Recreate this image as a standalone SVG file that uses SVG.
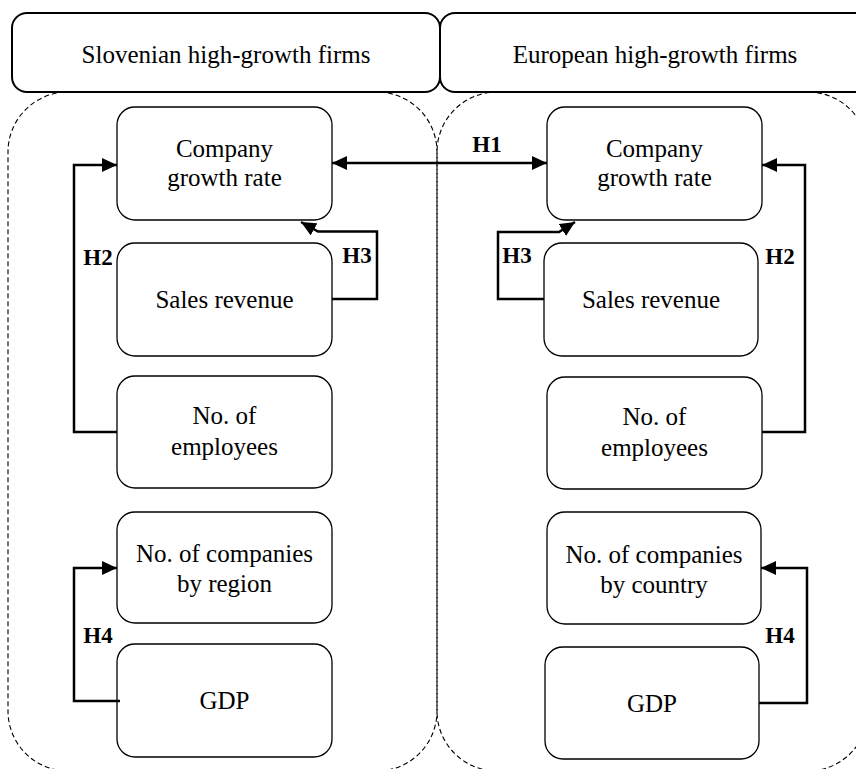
<svg xmlns="http://www.w3.org/2000/svg" width="856" height="769" viewBox="0 0 856 769">
<style>
text { font-family: "Liberation Serif", "Times New Roman", serif; fill: #000; }
.lbl { font-size: 25px; text-anchor: middle; }
.h { font-size: 23px; font-weight: bold; text-anchor: middle; }
.region { fill: none; stroke: #000; stroke-width: 1.1; stroke-dasharray: 5 3; }
.header { fill: #fff; stroke: #000; stroke-width: 2; }
.node { fill: #fff; stroke: #000; stroke-width: 1.3; }
.conn { fill: none; stroke: #000; stroke-width: 2.5; }
</style>
<defs>
<marker id="arr" viewBox="0 0 15 14" refX="15" refY="7" markerWidth="15" markerHeight="14" markerUnits="userSpaceOnUse" orient="auto-start-reverse">
<path d="M0,0 L15,7 L0,14 z" fill="#000"/>
</marker>
</defs>
<rect width="856" height="769" fill="#fff"/>
<g id="regions">
<rect class="region" x="8" y="92" width="429" height="679" rx="60" ry="60"/>
<rect class="region" x="437" y="92" width="431" height="679" rx="60" ry="60"/>
</g>
<g id="header-slovenian">
<rect class="header" x="12" y="13" width="428" height="79" rx="15" ry="15"/>
<text class="lbl" x="226" y="63">Slovenian high-growth firms</text>
</g>
<g id="header-european">
<rect class="header" x="440" y="13" width="430" height="79" rx="15" ry="15"/>
<text class="lbl" x="655" y="63">European high-growth firms</text>
</g>
<g id="sl-growth">
<rect class="node" x="117" y="107" width="215" height="113" rx="18" ry="18"/>
<text class="lbl" x="224.5" y="157">Company</text>
<text class="lbl" x="224.5" y="186">growth rate</text>
</g>
<g id="sl-sales">
<rect class="node" x="117" y="243" width="215" height="113" rx="18" ry="18"/>
<text class="lbl" x="224.5" y="308">Sales revenue</text>
</g>
<g id="sl-employees">
<rect class="node" x="117" y="376" width="215" height="112" rx="18" ry="18"/>
<text class="lbl" x="224.5" y="424">No. of</text>
<text class="lbl" x="224.5" y="455">employees</text>
</g>
<g id="sl-companies">
<rect class="node" x="117" y="512" width="215" height="111" rx="18" ry="18"/>
<text class="lbl" x="224.5" y="562">No. of companies</text>
<text class="lbl" x="224.5" y="592">by region</text>
</g>
<g id="sl-gdp">
<rect class="node" x="117" y="644" width="215" height="113" rx="18" ry="18"/>
<text class="lbl" x="224.5" y="709">GDP</text>
</g>
<g id="eu-growth">
<rect class="node" x="547" y="107" width="215" height="113" rx="18" ry="18"/>
<text class="lbl" x="654.5" y="157">Company</text>
<text class="lbl" x="654.5" y="186">growth rate</text>
</g>
<g id="eu-sales">
<rect class="node" x="544" y="243" width="214" height="113" rx="18" ry="18"/>
<text class="lbl" x="651" y="308">Sales revenue</text>
</g>
<g id="eu-employees">
<rect class="node" x="547" y="377" width="215" height="112" rx="18" ry="18"/>
<text class="lbl" x="654.5" y="425">No. of</text>
<text class="lbl" x="654.5" y="456">employees</text>
</g>
<g id="eu-companies">
<rect class="node" x="547" y="512" width="214" height="112" rx="18" ry="18"/>
<text class="lbl" x="654" y="563">No. of companies</text>
<text class="lbl" x="654" y="593">by country</text>
</g>
<g id="eu-gdp">
<rect class="node" x="545" y="647" width="214" height="112" rx="18" ry="18"/>
<text class="lbl" x="652" y="712">GDP</text>
</g>
<g id="connectors">
<path class="conn" d="M332,163 H547" marker-start="url(#arr)" marker-end="url(#arr)"/>
<path class="conn" d="M117,432 H74 V165 H117" marker-end="url(#arr)"/>
<path class="conn" d="M332,299 H377 V231.5 H318 L301,222" marker-end="url(#arr)"/>
<path class="conn" d="M544,299 H498 V232 H559 L575,222" marker-end="url(#arr)"/>
<path class="conn" d="M762,432 H805 V165 H762" marker-end="url(#arr)"/>
<path class="conn" d="M120,701 H74 V568 H117" marker-end="url(#arr)"/>
<path class="conn" d="M759,703 H807 V568 H761" marker-end="url(#arr)"/>
</g>
<g id="labels">
<text class="h" x="487" y="152">H1</text>
<text class="h" x="98" y="265">H2</text>
<text class="h" x="357" y="263">H3</text>
<text class="h" x="517" y="263">H3</text>
<text class="h" x="780" y="264">H2</text>
<text class="h" x="98" y="643">H4</text>
<text class="h" x="780" y="643">H4</text>
</g>
</svg>
